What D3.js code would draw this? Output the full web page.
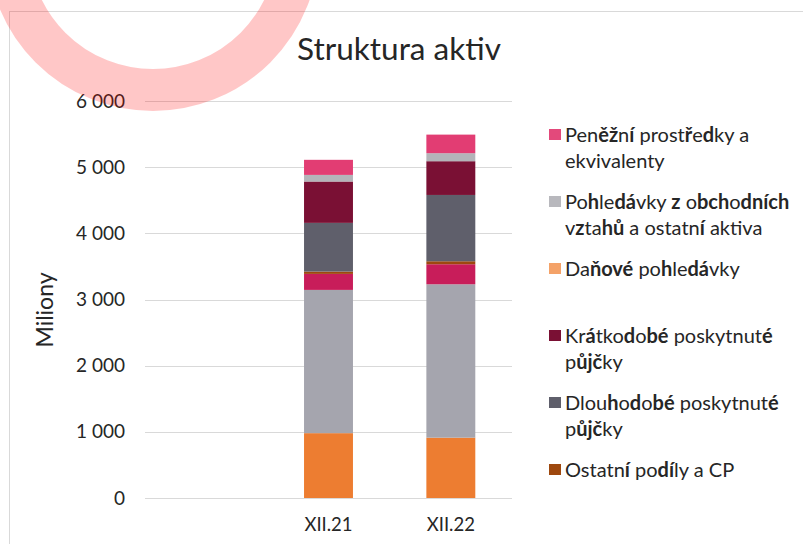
<!DOCTYPE html>
<html>
<head>
<meta charset="utf-8">
<script src="https://cdn.jsdelivr.net/npm/d3@7"></script>
<style>
  body { margin: 0; background: #fff; }
  svg { display: block; font-family: Lato, "Open Sans", sans-serif; }
</style>
</head>
<body>
<div id="chart"></div>
<script>
// data (milions)
var categories = ["", "XII.21", "XII.22"];
var yTicks = [0, 1000, 2000, 3000, 4000, 5000, 6000];

// stack order, bottom to top; the first three are cut off in the legend
var seriesKeys   = ["s_orange", "s_grey", "s_crimson", "ostatni", "dlouhodobe", "kratkodobe", "danove", "pohledavky", "penezni"];
var seriesColors = ["#ed7d31", "#a5a5ae", "#c81d5a", "#9e480e", "#5f5f6b", "#7a1034", "#f4a268", "#b4b4b9", "#e23d73"];
var valuesXII21  = [980, 2165, 242, 35, 736, 625, 0, 100, 228];
var valuesXII22  = [912, 2318, 303, 45, 1002, 510, 0, 121, 281];

// legend (top to bottom), * marks the bold-looking letters
var legendKeys  = ["penezni", "pohledavky", "danove", "kratkodobe", "dlouhodobe", "ostatni"];
var legendLines = [
  ["Pen*ěž*n*í* prost*ř*e*d*ky a", "ekvivalenty"],
  ["Po*h*le*dá*vky *z* o*bch*o*dních*", "v*z*ta*hů* a ostatn*í* aktiva"],
  ["Da*ňové* po*h*le*dá*vky"],
  ["Kr*á*tko*d*o*bé* poskytnut*é*", "p*ůjč*ky"],
  ["Dlou*h*o*d*o*bé* poskytnut*é*", "p*ůjč*ky"],
  ["Ostatn*í* po*dí*ly a CP"]
];

var W = 803, H = 544;
var margin = {top: 101, left: 145, plotW: 367, plotH: 397};

var svg = d3.select("#chart").append("svg")
  .attr("width", W).attr("height", H);

// chart frame
svg.append("rect")
  .attr("x", 9.5).attr("y", 11.5)
  .attr("width", W + 20).attr("height", H + 20)
  .attr("fill", "none").attr("stroke", "#d9d9d9");

var x = d3.scaleBand().domain(categories).range([0, margin.plotW]).paddingInner(0.6).paddingOuter(0.3);
var y = d3.scaleLinear().domain([0, 6000]).range([margin.plotH, 0]);

var g = svg.append("g").attr("transform", "translate(" + margin.left + "," + margin.top + ")");

// grid
g.selectAll(".grid").data(yTicks).enter().append("line")
  .attr("x1", 0).attr("x2", margin.plotW)
  .attr("y1", function(d) { return Math.round(y(d)) + 0.5; })
  .attr("y2", function(d) { return Math.round(y(d)) + 0.5; })
  .attr("stroke", "#d9d9d9").attr("stroke-width", 1);

// y tick labels
g.selectAll(".ytick").data(yTicks).enter().append("text")
  .attr("x", -20).attr("y", function(d) { return y(d); })
  .attr("dy", "0.35em").attr("text-anchor", "end")
  .attr("font-size", 19).attr("fill", "#262626")
  .text(function(d) { return d3.format(",")(d).replace(/,/g, " "); });

// x labels
g.selectAll(".xtick").data(categories).enter().append("text")
  .attr("x", function(d) { return x(d) + x.bandwidth() / 2; })
  .attr("y", margin.plotH + 33)
  .attr("text-anchor", "middle").attr("font-size", 18.5).attr("fill", "#262626")
  .text(function(d) { return d; });

// stacked bars
var rows = [{cat: "XII.21"}, {cat: "XII.22"}];
seriesKeys.forEach(function(k, i) { rows[0][k] = valuesXII21[i]; rows[1][k] = valuesXII22[i]; });
var stack = d3.stack().keys(seriesKeys)(rows);
var color = d3.scaleOrdinal().domain(seriesKeys).range(seriesColors);

g.selectAll(".layer").data(stack).enter().append("g")
  .attr("fill", function(d) { return color(d.key); })
  .selectAll("rect").data(function(d) { return d; }).enter().append("rect")
  .attr("x", function(d) { return x(d.data.cat); })
  .attr("width", x.bandwidth())
  .attr("y", function(d) { return y(d[1]); })
  .attr("height", function(d) { return y(d[0]) - y(d[1]); });

// title
svg.append("text")
  .attr("x", 399).attr("y", 60).attr("text-anchor", "middle")
  .attr("font-size", 31.5).attr("fill", "#262626")
  .text("Struktura aktiv");

// y axis title
svg.append("text")
  .attr("transform", "translate(53,310) rotate(-90)")
  .attr("text-anchor", "middle").attr("font-size", 23).attr("fill", "#262626")
  .text("Miliony");

// legend
var legend = svg.append("g").attr("transform", "translate(549,0)");
legendKeys.forEach(function(k, i) {
  var cy = 135 + i * 67;
  legend.append("rect")
    .attr("x", 0).attr("y", cy - 6).attr("width", 12).attr("height", 11)
    .attr("fill", k == "penezni" ? "#e3497b" : k == "pohledavky" ? "#b8b8bd" : color(k));
  legendLines[i].forEach(function(line, j) {
    var t = legend.append("text")
      .attr("x", 16).attr("y", cy + 7 + j * 25.5)
      .attr("font-size", 20).attr("fill", "#262626");
    line.split("*").forEach(function(part, n) {
      if (part == "") return;
      t.append("tspan").attr("font-weight", n % 2 ? 700 : 400).text(part);
    });
  });
});

// watermark ring
svg.append("circle")
  .attr("cx", 153).attr("cy", -55).attr("r", 145)
  .attr("fill", "none").attr("stroke", "rgba(255,0,0,0.22)").attr("stroke-width", 42);
</script>
</body>
</html>
